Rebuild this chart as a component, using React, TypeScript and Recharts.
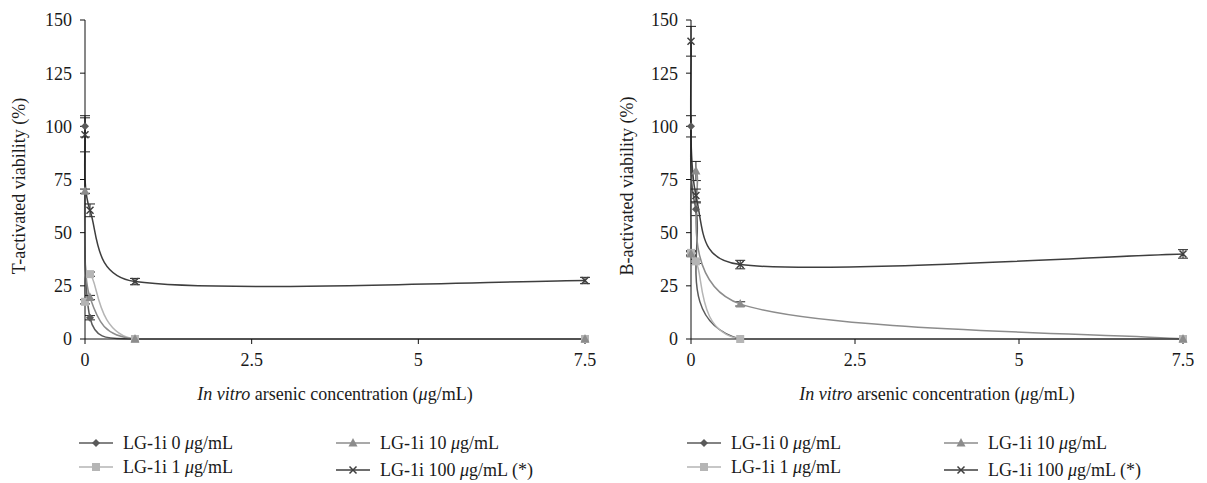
import React from "react";
import { LineChart, Line, XAxis, YAxis, ErrorBar } from "recharts";

// arsenic concentrations (µg/mL) used on both panels
const concentrations = [0, 0.075, 0.75, 7.5];
const xTicks = [0, 2.5, 5, 7.5];
const yTicks = [0, 25, 50, 75, 100, 125, 150];

// LG-1i doses, legend order is column by column
const doses = ["0", "1", "10", "100"];
const doseSuffix = ["", "", "", " (*)"];

// T-activated viability (%)
const tDose0 = [100, 10, 0, 0];
const tDose1 = [17.5, 30.5, 0, 0];
const tDose10 = [69.5, 19.5, 0, 0];
const tDose100 = [96, 60.5, 27, 27.5];
const tErr0 = [5, 1, 0, 0];
const tErr1 = [1, 1, 0, 0];
const tErr10 = [1, 1, 0, 0];
const tErr100 = [8, 3, 1.5, 1.5];

// B-activated viability (%)
const bDose0 = [100, 61, 0, 0];
const bDose1 = [40.5, 36.5, 0, 0];
const bDose10 = [40, 79, 16.5, 0];
const bDose100 = [140, 67.5, 35, 40];
const bErr0 = [5, 3, 0, 0];
const bErr1 = [1, 1, 0, 0];
const bErr10 = [1, 4.5, 1, 0];
const bErr100 = [7, 3, 2, 2];

const colors = ["#5a5a5a", "#b5b5b5", "#8c8c8c", "#3e3e3e"];
const markers = ["diamond", "square", "triangle", "cross"];
const FONT = "'Liberation Serif', 'Times New Roman', Times, Tinos, 'DejaVu Serif', serif";

function buildRows(values: number[][], errors: number[][]) {
	return concentrations.map((x, i) => {
		const row: Record<string, number> = { x };
		values.forEach((v, s) => {
			row[`s${s}`] = v[i];
			row[`e${s}`] = errors[s][i];
		});
		return row;
	});
}

const tRows = buildRows(
	[tDose0, tDose1, tDose10, tDose100],
	[tErr0, tErr1, tErr10, tErr100]
);
const bRows = buildRows(
	[bDose0, bDose1, bDose10, bDose100],
	[bErr0, bErr1, bErr10, bErr100]
);

const dist = (a: number[], b: number[]) => Math.hypot(b[0] - a[0], b[1] - a[1]);

// excel style smoothing: bezier arms = neighbour chord / 6, capped at half the segment
function smoothCurve(context: any) {
	let pts: number[][] = [];
	const arm = (from: number[], a: number[], b: number[], seg: number, sign: number) => {
		const d = dist(a, b);
		if (d === 0) return from;
		const len = Math.min(d / 6, seg / 2);
		return [
			from[0] + (sign * (b[0] - a[0]) * len) / d,
			from[1] + (sign * (b[1] - a[1]) * len) / d,
		];
	};
	return {
		areaStart() {},
		areaEnd() {},
		lineStart() {
			pts = [];
		},
		lineEnd() {
			if (!pts.length) return;
			context.moveTo(pts[0][0], pts[0][1]);
			for (let i = 0; i < pts.length - 1; i++) {
				const p0 = pts[i - 1] || pts[i];
				const p1 = pts[i];
				const p2 = pts[i + 1];
				const p3 = pts[i + 2] || p2;
				if (p1[1] === p2[1]) {
					context.lineTo(p2[0], p2[1]);
					continue;
				}
				const seg = dist(p1, p2);
				const c1 = arm(p1, p0, p2, seg, 1);
				const c2 = arm(p2, p1, p3, seg, -1);
				context.bezierCurveTo(c1[0], c1[1], c2[0], c2[1], p2[0], p2[1]);
			}
		},
		point(x: number, y: number) {
			pts.push([+x, +y]);
		},
	};
}

function Marker({ kind, cx, cy, color }: { kind: string; cx: number; cy: number; color: string }) {
	if (kind === "diamond") {
		const r = 4;
		return (
			<path
				d={`M${cx},${cy - r}L${cx + r},${cy}L${cx},${cy + r}L${cx - r},${cy}Z`}
				fill={color}
			/>
		);
	}
	if (kind === "square") {
		return <rect x={cx - 4} y={cy - 4} width={8} height={8} fill={color} />;
	}
	if (kind === "triangle") {
		return (
			<path
				d={`M${cx},${cy - 5}L${cx + 4.5},${cy + 3.5}L${cx - 4.5},${cy + 3.5}Z`}
				fill={color}
			/>
		);
	}
	const r = 3.5;
	return (
		<path
			d={`M${cx - r},${cy - r}L${cx + r},${cy + r}M${cx - r},${cy + r}L${cx + r},${cy - r}`}
			stroke={color}
			strokeWidth={1.5}
			fill="none"
		/>
	);
}

function Panel({
	rows,
	left,
	yWidth,
	rightMargin,
	yTitle,
	titleX,
	legendX,
}: {
	rows: Record<string, number>[];
	left: number;
	yWidth: number;
	rightMargin: number;
	yTitle: string;
	titleX: number;
	legendX: number[];
}) {
	const tick = { fill: "#1a1a1a", fontSize: 18, fontFamily: FONT };
	return (
		<div style={{ position: "absolute", left, top: 0, width: 603, height: 483 }}>
			<LineChart
				width={603}
				height={420}
				data={rows}
				margin={{ top: 20, right: rightMargin, bottom: 0, left: 0 }}
			>
				<XAxis
					dataKey="x"
					type="number"
					domain={[0, 7.5]}
					ticks={xTicks}
					height={81}
					tick={tick}
					tickSize={5}
					tickMargin={9}
					axisLine={{ stroke: "#111" }}
					tickLine={{ stroke: "#111" }}
				/>
				<YAxis
					type="number"
					domain={[0, 150]}
					ticks={yTicks}
					width={yWidth}
					tick={tick}
					tickSize={5}
					tickMargin={8}
					axisLine={{ stroke: "#111" }}
					tickLine={{ stroke: "#111" }}
				/>
				{doses.map((d, s) => (
					<Line
						key={d}
						dataKey={`s${s}`}
						type={smoothCurve as any}
						stroke={colors[s]}
						strokeWidth={1.5}
						isAnimationActive={false}
						dot={(p: any) =>
							p.cx == null ? null : (
								<Marker
									key={`m-${s}-${p.index}`}
									kind={markers[s]}
									cx={p.cx}
									cy={p.cy}
									color={colors[s]}
								/>
							)
						}
						activeDot={false}
					>
						<ErrorBar
							dataKey={`e${s}`}
							direction="y"
							width={5}
							stroke="#222"
							strokeWidth={1}
							isAnimationActive={false}
						/>
					</Line>
				))}
			</LineChart>

			<div
				style={{
					position: "absolute",
					left: titleX,
					top: 186,
					transform: "translate(-50%, -50%) rotate(-90deg)",
					whiteSpace: "nowrap",
					fontFamily: FONT,
					fontSize: 18,
					color: "#1a1a1a",
				}}
			>
				{yTitle}
			</div>
			<div
				style={{
					position: "absolute",
					left: yWidth + (603 - yWidth - rightMargin) / 2,
					top: 394,
					transform: "translate(-50%, -50%)",
					whiteSpace: "nowrap",
					fontFamily: FONT,
					fontSize: 18,
					color: "#1a1a1a",
				}}
			>
				<i>In vitro</i> arsenic concentration (<i>μ</i>g/mL)
			</div>

			{doses.map((d, s) => {
				const col = Math.floor(s / 2);
				const row = s % 2;
				const y0 = 443 + row * 24 + (col === 1 && row === 1 ? 3 : 0);
				return (
					<div
						key={`leg-${d}`}
						style={{
							position: "absolute",
							left: legendX[col],
							top: y0 - 11,
							height: 22,
							display: "flex",
							alignItems: "center",
							fontFamily: FONT,
							fontSize: 18,
							color: "#1a1a1a",
							whiteSpace: "nowrap",
						}}
					>
						<svg width={34} height={22} style={{ marginRight: 10 }}>
							<line x1={0} y1={11} x2={34} y2={11} stroke={colors[s]} strokeWidth={1.5} />
							<Marker kind={markers[s]} cx={17} cy={11} color={colors[s]} />
						</svg>
						<span>
							LG-1i {d} <i>μ</i>g/mL{doseSuffix[s]}
						</span>
					</div>
				);
			})}
		</div>
	);
}

export default function App() {
	return (
		<div
			style={{
				position: "absolute",
				left: 0,
				top: 0,
				width: 1207,
				height: 483,
				background: "#fff",
				overflow: "hidden",
			}}
		>
			<Panel
				rows={tRows}
				left={0}
				yWidth={85}
				rightMargin={18}
				yTitle="T-activated viability (%)"
				titleX={19}
				legendX={[79, 336]}
			/>
			<Panel
				rows={bRows}
				left={603}
				yWidth={88}
				rightMargin={23}
				yTitle="B-activated viability (%)"
				titleX={24}
				legendX={[84, 341]}
			/>
		</div>
	);
}
